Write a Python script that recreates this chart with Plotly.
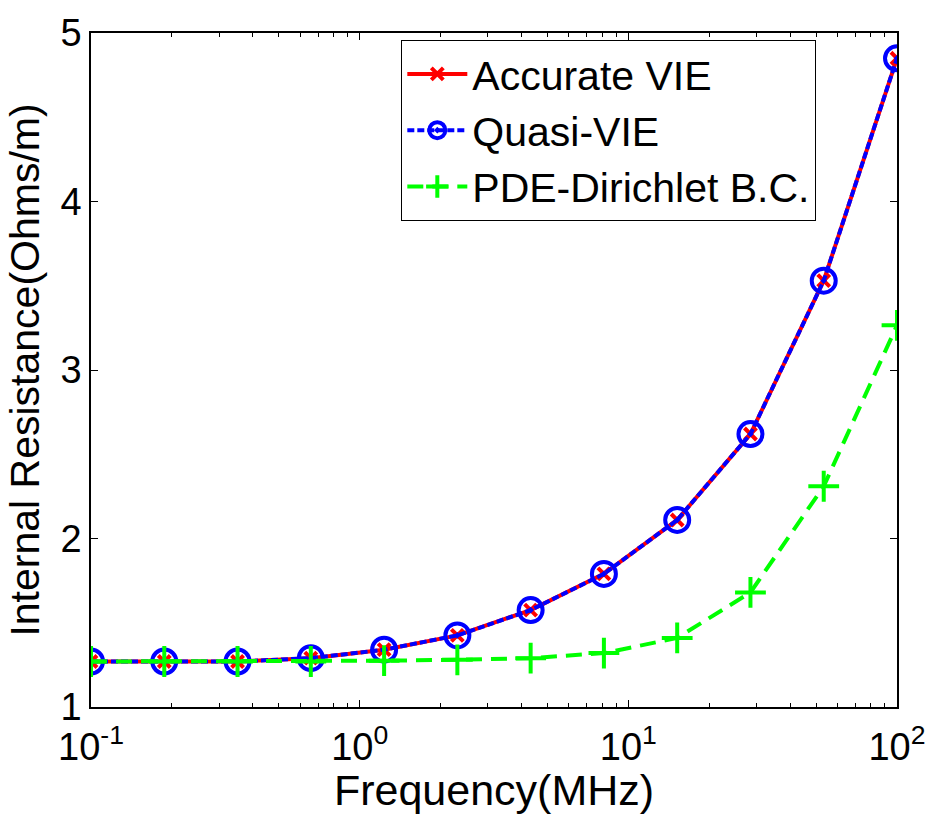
import plotly.graph_objects as go

freq = [0.1, 0.1874, 0.3511, 0.6579, 1.233, 2.310, 4.329, 8.111, 15.20, 28.48, 53.37, 100.0]
accurate_vie = [1.27, 1.27, 1.27, 1.29, 1.34, 1.425, 1.575, 1.79, 2.11, 2.62, 3.53, 4.85]
quasi_vie = [1.27, 1.27, 1.27, 1.29, 1.34, 1.425, 1.575, 1.79, 2.11, 2.62, 3.53, 4.85]
pde_dirichlet = [1.27, 1.27, 1.27, 1.27, 1.275, 1.28, 1.29, 1.32, 1.41, 1.68, 2.31, 3.265]

x_tickvals = [0.1, 1, 10, 100]
x_ticktext = ["10<sup>-1</sup>", "10<sup>0</sup>", "10<sup>1</sup>", "10<sup>2</sup>"]
x_minor_tickvals = [0.2, 0.3, 0.4, 0.5, 0.6, 0.7, 0.8, 0.9,
                    2, 3, 4, 5, 6, 7, 8, 9,
                    20, 30, 40, 50, 60, 70, 80, 90]
y_tickvals = [1, 2, 3, 4, 5]

FONT = "Liberation Sans, Arial, sans-serif"

fig = go.Figure()
fig.add_trace(go.Scatter(
    x=freq, y=accurate_vie, name="Accurate VIE", mode="lines+markers",
    line=dict(color="#ff0000", width=4),
    marker=dict(symbol="x-thin", size=12, line=dict(color="#ff0000", width=4)),
))
fig.add_trace(go.Scatter(
    x=freq, y=quasi_vie, name="Quasi-VIE", mode="lines+markers",
    line=dict(color="#0000ff", width=4, dash="7px,3px"),
    marker=dict(symbol="circle-open-dot", size=24, color="#0000ff", line=dict(color="#0000ff", width=4)),
))
fig.add_trace(go.Scatter(
    x=freq, y=pde_dirichlet, name="PDE-Dirichlet B.C.", mode="lines+markers",
    line=dict(color="#00ff00", width=4, dash="16px,9px"),
    marker=dict(symbol="cross-thin", size=22, line=dict(color="#00ff00", width=4)),
))

fig.update_layout(
    width=938, height=814,
    margin=dict(l=91, r=34, t=29, b=107),
    paper_bgcolor="white", plot_bgcolor="white",
    font=dict(family=FONT, color="black", size=38),
    showlegend=True,
    legend=dict(
        x=0.385, y=0.99, xanchor="left", yanchor="top",
        bordercolor="black", borderwidth=1, bgcolor="white",
        font=dict(family=FONT, size=41, color="black"),
        itemwidth=60, tracegroupgap=0,
    ),
)
fig.update_xaxes(
    type="log", range=[-1, 2],
    tickvals=x_tickvals, ticktext=x_ticktext,
    ticks="inside", ticklen=7, tickcolor="black", ticklabelstandoff=6,
    minor=dict(tickvals=x_minor_tickvals, ticks="inside", ticklen=4, tickcolor="black", showgrid=False),
    showline=True, linecolor="black", linewidth=1.5, mirror="allticks",
    showgrid=False, zeroline=False,
    tickfont=dict(family=FONT, size=38, color="black"),
    title=dict(text="Frequency(MHz)", font=dict(family=FONT, size=43, color="black"), standoff=0),
)
fig.update_yaxes(
    range=[1, 5], tickvals=y_tickvals,
    ticks="inside", ticklen=7, tickcolor="black",
    showline=True, linecolor="black", linewidth=1.5, mirror="allticks",
    showgrid=False, zeroline=False,
    tickfont=dict(family=FONT, size=38, color="black"),
    title=dict(text="Internal Resistance(Ohms/m)", font=dict(family=FONT, size=41, color="black"), standoff=8),
)

fig.write_html("out.html")
